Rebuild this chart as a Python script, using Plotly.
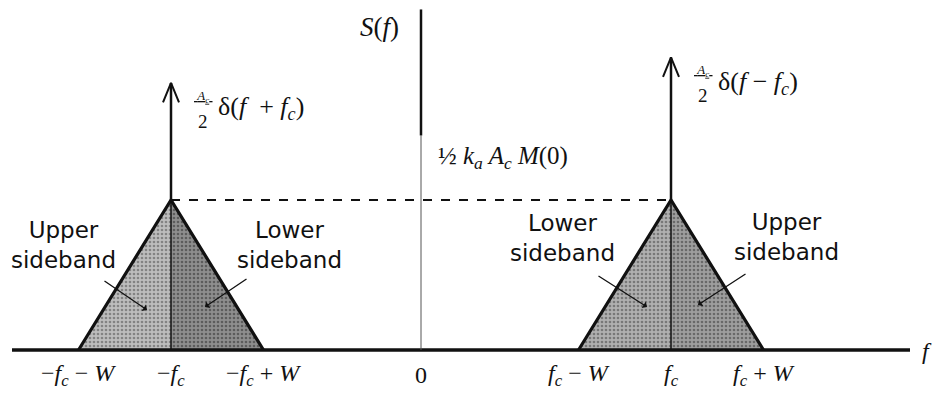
import plotly.graph_objects as go

# ---------------- data (normalised units: f in units of fc, S in units of sideband peak)
fc = 1.0
W = 0.37
sideband_peak = 1.0                 # (1/2) k_a A_c M(0)
carrier_freqs = [-fc, fc]
carrier_heights = [1.78, 1.95]      # A_c/2 delta arrows as drawn (left, right)
axis_top = 2.27
axis_thick_from = 1.43
baseline_ext = [-1.636, 1.956]

tick_freqs = [-fc - W, -fc, -fc + W, 0.0, fc - W, fc, fc + W]
tick_labels = [
    "−<i>f<sub>c</sub></i> − <i>W</i>",
    "−<i>f<sub>c</sub></i>",
    "−<i>f<sub>c</sub></i> + <i>W</i>",
    "0",
    "<i>f<sub>c</sub></i> − <i>W</i>",
    "<i>f<sub>c</sub></i>",
    "<i>f<sub>c</sub></i> + <i>W</i>",
]
delta_labels = ["δ(<i>f</i>  + <i>f<sub>c</sub></i>)", "δ(<i>f</i> − <i>f<sub>c</sub></i>)"]
sideband_names = ["Upper<br>sideband", "Lower<br>sideband", "Lower<br>sideband", "Upper<br>sideband"]

SERIF = "Liberation Serif"
SANS = "DejaVu Sans"
INK = "#111111"

fig = go.Figure()

# ---------------- sideband triangles (two halves each, stippled)
half_styles = [
    ("#bdbdbd", "#4a4a4a"),  # left tri, outer half
    ("#8e8e8e", "#2a2a2a"),  # left tri, inner half
    ("#b0b0b0", "#404040"),  # right tri, inner half
    ("#9e9e9e", "#333333"),  # right tri, outer half
]
k = 0
for c in carrier_freqs:
    for side in (-1, 1):
        xs = [c, c + side * W, c, c]
        ys = [sideband_peak, 0, 0, sideband_peak]
        bg, fg = half_styles[k]
        k += 1
        fig.add_trace(go.Scatter(
            x=xs, y=ys, mode="lines", fill="toself", fillcolor=bg,
            fillpattern=dict(shape=".", bgcolor=bg, fgcolor=fg, size=4, solidity=0.35),
            line=dict(width=0), hoverinfo="skip", showlegend=False))
    # sloped outline
    fig.add_trace(go.Scatter(
        x=[c - W, c, c + W], y=[0, sideband_peak, 0], mode="lines",
        line=dict(color=INK, width=3.2), hoverinfo="skip", showlegend=False))
    # thin centre line inside triangle
    fig.add_trace(go.Scatter(
        x=[c, c], y=[0, sideband_peak], mode="lines",
        line=dict(color=INK, width=1.5), hoverinfo="skip", showlegend=False))

# ---------------- dashed level line
fig.add_trace(go.Scatter(
    x=[carrier_freqs[0], carrier_freqs[1]], y=[sideband_peak, sideband_peak],
    mode="lines", line=dict(color=INK, width=2, dash="dash"),
    hoverinfo="skip", showlegend=False))

# ---------------- baseline and vertical axis
fig.add_trace(go.Scatter(
    x=baseline_ext, y=[0, 0], mode="lines", line=dict(color=INK, width=3.5),
    hoverinfo="skip", showlegend=False))
fig.add_trace(go.Scatter(
    x=[0, 0], y=[0, axis_thick_from], mode="lines", line=dict(color="#555555", width=1),
    hoverinfo="skip", showlegend=False))
fig.add_trace(go.Scatter(
    x=[0, 0], y=[axis_thick_from, axis_top], mode="lines", line=dict(color=INK, width=2.5),
    hoverinfo="skip", showlegend=False))

# ---------------- carrier delta arrows
hx, hy = 0.032, 0.13
for c, h in zip(carrier_freqs, carrier_heights):
    fig.add_trace(go.Scatter(
        x=[c, c], y=[sideband_peak, h], mode="lines", line=dict(color=INK, width=2.5),
        hoverinfo="skip", showlegend=False))
    fig.add_trace(go.Scatter(
        x=[c - hx, c, c + hx], y=[h - hy, h, h - hy], mode="lines",
        line=dict(color=INK, width=2), hoverinfo="skip", showlegend=False))

ann = []
# tick labels
for f, t in zip(tick_freqs, tick_labels):
    ann.append(dict(x=f, y=-0.165, text=t, showarrow=False, xanchor="center", yanchor="middle",
                    font=dict(family=SERIF, size=24, color=INK)))
# axis names
ann.append(dict(x=-0.165, y=2.15, text="<i>S</i>(<i>f</i>)", showarrow=False,
                font=dict(family=SERIF, size=27, color=INK)))
ann.append(dict(x=1.995, y=-0.01, text="<i>f</i>", showarrow=False,
                xanchor="left", yanchor="middle", font=dict(family=SERIF, size=24, color=INK)))
# level label
ann.append(dict(x=0.06, y=1.28, text="½ <i>k<sub>a</sub> A<sub>c</sub> M</i>(0)", showarrow=False,
                xanchor="left", font=dict(family=SERIF, size=25, color=INK)))
# delta labels with stacked fraction
for c, h, t in zip(carrier_freqs, carrier_heights, delta_labels):
    top = h - 0.09
    ann.append(dict(x=c, y=top, xshift=32, text="<u> <i>A<sub>c</sub></i> </u>", showarrow=False,
                    font=dict(family=SERIF, size=13, color=INK)))
    ann.append(dict(x=c, y=top - 0.165, xshift=32, text="2", showarrow=False,
                    font=dict(family=SERIF, size=19, color=INK)))
    ann.append(dict(x=c, y=top - 0.08, xshift=45, text=t, showarrow=False, xanchor="left",
                    font=dict(family=SERIF, size=26, color=INK)))
# sideband labels
sb_pos = [(-1.43, 0.70), (-0.528, 0.70), (0.564, 0.745), (1.46, 0.755)]
for (x, y), t in zip(sb_pos, sideband_names):
    ann.append(dict(x=x, y=y, text=t, showarrow=False, align="center",
                    font=dict(family=SANS, size=23, color=INK)))
# pointer lines
ptrs = [((-1.272, 0.467), (-1.096, 0.267)),
        ((-0.692, 0.48), (-0.864, 0.287)),
        ((0.704, 0.50), (0.904, 0.287)),
        ((1.304, 0.513), (1.108, 0.30))]
for (x0, y0), (x1, y1) in ptrs:
    ann.append(dict(x=x1, y=y1, ax=x0, ay=y0, axref="x", ayref="y", xref="x", yref="y",
                    text="", showarrow=True, arrowhead=1, arrowsize=1, arrowwidth=1.3,
                    arrowcolor=INK))

fig.update_layout(
    width=933, height=398, margin=dict(l=0, r=0, t=0, b=0),
    paper_bgcolor="white", plot_bgcolor="white",
    xaxis=dict(range=[-1.684, 2.048], visible=False, fixedrange=True),
    yaxis=dict(range=[-0.32, 2.333], visible=False, fixedrange=True),
    annotations=ann, showlegend=False,
)

fig.write_html(
    "out.html",
    config={"displayModeBar": False},
    post_script="document.body.style.margin='0';document.body.style.overflow='hidden';",
)
